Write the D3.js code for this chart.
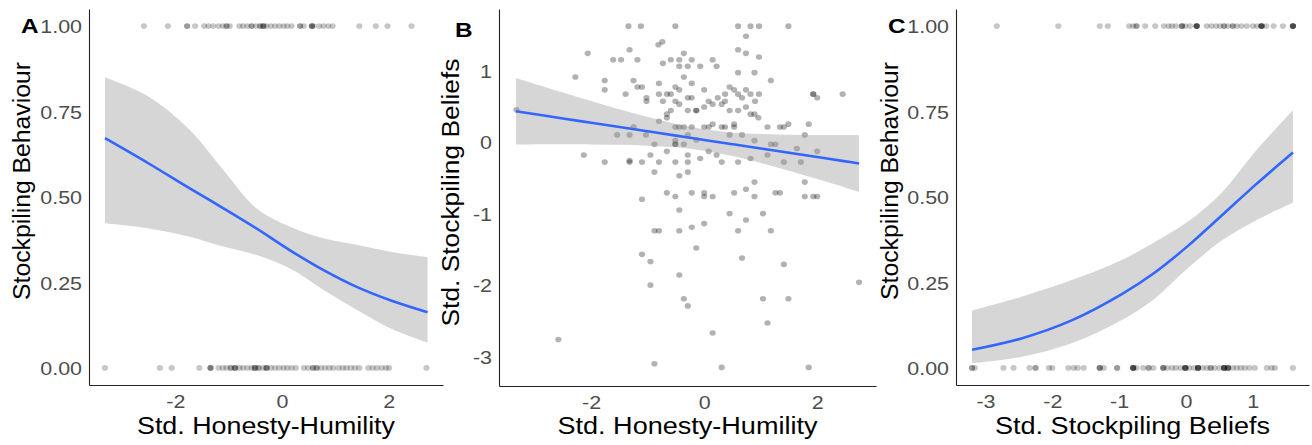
<!DOCTYPE html>
<html lang="en">
<head>
    <meta charset="utf-8">
    <title>Stockpiling</title>
    <script type="text/javascript" src="https://d3js.org/d3.v7.min.js"></script>
    <style>
        body { margin: 0; background: white; }
        svg text { font-family: "Liberation Sans", Arial, Helvetica, sans-serif; }
        .tick text { fill: #4d4d4d; font-size: 18.5px; }
        .domain { stroke: #222; stroke-width: 1.1px; }
    </style>
</head>
<body>
    <div id="chart"></div>
    <script type="text/javascript">
        // ---- data ----
        // A: Std. Honesty-Humility of people who did (1) / did not (0) stockpile
        const hhTop = [-2.59, -2.14, -1.78, -1.78, -1.63, -1.46, -1.38, -1.29, -1.19, -1.11, -1.04, -1.04, -0.98,
            -0.80, -0.73, -0.65, -0.57, -0.57, -0.49, -0.41, -0.41, -0.35, -0.35, -0.35, -0.29, -0.21, -0.13,
            -0.05, 0.03, 0.10, 0.18, 0.34, 0.34, 0.41, 0.56, 0.56, 0.56, 0.59, 0.70, 0.78, 0.87, 0.95,
            1.45, 1.76, 1.98, 2.43];
        const hhBottom = [-3.32, -2.29, -2.07, -1.55, -1.34, -1.34, -1.34, -1.19, -1.11, -1.04, -0.96, -0.96,
            -0.88, -0.88, -0.88, -0.80, -0.73, -0.65, -0.57, -0.51, -0.51, -0.51, -0.44, -0.44, -0.35,
            -0.29, -0.29, -0.29, -0.21, -0.13, -0.05, 0.03, 0.10, 0.18, 0.26, 0.41, 0.49, 0.58, 0.58,
            0.65, 0.65, 0.73, 0.81, 0.89, 0.96, 1.06, 1.14, 1.21, 1.29, 1.37, 1.45, 1.62, 1.70, 1.78,
            1.87, 1.95, 2.01, 2.71];

        // B: honesty-humility (x) vs stockpiling beliefs (y)
        const bX = [-1.34, -1.12, -0.51, 0.60, 0.82, 0.97, 1.49, 0.74, -0.81, -0.74, -2.06, -1.32, 0.60, 0.74, 0.97,
            -0.36, -1.61, -1.47, -1.18, -0.59, -0.44, -0.22, 0.15, -0.73, -0.44, -0.29, -0.07, 0.22,
            0.60, 0.89, -2.28, -0.36, -1.76, -1.25, 1.18, -0.80, -0.22,
            -1.18, -1.10, -0.51, -0.44, 0.45, 0.53, -1.76, 0.00, 0.74,
            -1.39, -0.80, -0.66, -0.59, 0.60, 0.82, 0.97, 1.93, 1.93, 2.00, 2.45, 0.37, 0.67,
            -1.02, -1.02, -0.29, -0.22, -0.51, -0.73, -0.44, 0.24, 0.08, 0.90, 0.37, 0.15, 0.31,
            -3.32, -0.66, -0.59, -0.29, -0.14, -0.14, 0.00, 0.45, 0.60, 0.82, 0.89, 0.96, 0.74,
            -0.66, -0.80,
            -0.36, -0.22, 0.00, 0.08, 0.31, 0.37, 0.53, 1.34, 1.41, 1.12, -1.25, -0.51, -0.44,
            0.15, 0.53, 1.49, 1.85,
            -1.54, -1.32, -1.03, -0.29, 0.45, 0.67, 1.78,
            -0.51, -0.51, -0.51, -0.36, -0.14, -0.88, 0.89, 1.18, 1.26,
            -0.66, 0.08, 1.64, 2.00,
            -2.13, -0.95, -0.29, 0.22, 1.12, 0.82,
            -1.76, -1.32, -1.32, -1.10, -0.80, -0.51, -0.29, -0.07, 0.31, 0.60, 1.41, 1.71,
            -0.88, -0.29, -0.44, 0.89, 1.78, 0.74,
            -0.66, -0.22, 0.00, 0.53, 1.26, 1.34,
            -0.51, 0.15, 0.00, 0.89, 1.78, 1.93, 2.00, -1.10,
            -0.44, 0.45, 1.04, 0.00, 0.74, -0.22,
            -0.88, -0.80, -0.44, 0.60, 1.18,
            -0.14, -1.10, -0.95, 0.67, 1.41, -0.44, -0.95, 2.74,
            -0.36, 1.04, 1.49, -0.29, 1.12, 0.15, -2.58, -0.88, 0.31, 1.85];
        const bY = [1.62, 1.62, 1.62, 1.62, 1.62, 1.62, 1.62, 1.48, 1.36, 1.40, 1.24, 1.29, 1.29, 1.24, 1.19,
            1.24, 1.15, 1.15, 1.15, 1.15, 1.15, 1.15, 1.15, 1.10, 1.06, 1.06, 1.06, 1.06,
            0.97, 0.97, 0.91, 0.91, 0.86, 0.86, 0.86, 0.82, 0.82,
            0.77, 0.77, 0.77, 0.73, 0.77, 0.73, 0.73, 0.73, 0.73,
            0.67, 0.67, 0.67, 0.67, 0.67, 0.67, 0.67, 0.67, 0.67, 0.62, 0.67, 0.67, 0.62,
            0.62, 0.57, 0.62, 0.62, 0.57, 0.57, 0.53, 0.62, 0.57, 0.57, 0.57, 0.53, 0.53,
            0.45, 0.39, 0.44, 0.44, 0.44, 0.44, 0.49, 0.44, 0.44, 0.39, 0.39, 0.34, 0.49,
            0.34, 0.29,
            0.21, 0.21, 0.21, 0.21, 0.21, 0.21, 0.21, 0.21, 0.21, 0.21, 0.21, 0.21, 0.21,
            0.25, 0.25, 0.25, 0.25,
            0.10, 0.10, 0.10, 0.10, 0.10, 0.10, 0.10,
            0.02, -0.03, -0.03, -0.03, 0.03, -0.03, 0.02, -0.03, -0.03,
            -0.13, -0.13, -0.09, -0.13,
            -0.18, -0.18, -0.18, -0.18, -0.18, -0.23,
            -0.28, -0.26, -0.28, -0.28, -0.28, -0.28, -0.28, -0.23, -0.28, -0.28, -0.28, -0.28,
            -0.42, -0.42, -0.47, -0.56, -0.56, -0.66,
            -0.71, -0.71, -0.71, -0.71, -0.71, -0.71,
            -0.76, -0.76, -0.76, -0.76, -0.76, -0.76, -0.76, -0.80,
            -0.95, -1.00, -1.00, -1.14, -1.09, -1.19,
            -1.24, -1.24, -1.24, -1.24, -1.24,
            -1.48, -1.57, -1.67, -1.62, -1.71, -1.86, -2.00, -1.96,
            -2.19, -2.19, -2.19, -2.29, -2.53, -2.67, -2.76, -3.10, -3.15, -3.15];

        // C: stockpiling beliefs of people who did (1) / did not (0) stockpile
        const sbTop = [-2.83, -1.91, -1.29, -1.17, -0.85, -0.79, -0.74, -0.74, -0.61, -0.46, -0.33, -0.26, -0.21,
            -0.15, -0.06, -0.06, -0.06, -0.01, 0.06, 0.16, 0.16, 0.16, 0.16, 0.16, 0.31, 0.38, 0.45, 0.51,
            0.57, 0.57, 0.63, 0.70, 0.70, 0.76, 0.83, 0.91, 1.00, 1.06, 1.13, 1.13, 1.13, 1.13, 1.13,
            1.20, 1.31, 1.45, 1.60, 1.60, 1.60, 1.60, 1.60];
        const sbBottom = [-3.20, -3.20, -3.16, -2.73, -2.58, -2.34, -2.25, -2.25, -2.05, -2.00, -1.76, -1.68,
            -1.62, -1.53, -1.29, -1.29, -1.29, -1.23, -1.03, -1.03, -0.79, -0.79, -0.79, -0.79, -0.79,
            -0.74, -0.64, -0.56, -0.56, -0.49, -0.34, -0.34, -0.34, -0.28, -0.21, -0.15, -0.08,
            -0.01, -0.01, -0.01, -0.01, -0.01, 0.05, 0.12, 0.18, 0.18, 0.18, 0.18, 0.18, 0.25, 0.31,
            0.37, 0.37, 0.43, 0.50, 0.57, 0.57, 0.57, 0.57, 0.57, 0.63, 0.63, 0.63, 0.63, 0.70, 0.76,
            0.82, 0.88, 0.95, 1.03, 1.21, 1.28, 1.33, 1.60];

        // fitted curves with 95% bands, read at a few x positions
        const fitAx  = [-3.32, -2.50, -1.73, -1.10, -0.48, 0.15, 0.78, 1.40, 2.03, 2.73];
        const fitAy  = [0.672, 0.598, 0.525, 0.467, 0.408, 0.344, 0.286, 0.237, 0.198, 0.163];
        const fitAlo = [0.423, 0.408, 0.384, 0.355, 0.330, 0.291, 0.228, 0.170, 0.116, 0.074];
        const fitAhi = [0.850, 0.793, 0.696, 0.579, 0.467, 0.413, 0.379, 0.360, 0.340, 0.324];

        const fitBx  = [-3.33, -2.5, -2, -1.5, -1, -0.5, 0, 0.5, 1, 1.5, 2, 2.5, 2.74];
        const fitBy  = [0.43, 0.33, 0.27, 0.21, 0.15, 0.09, 0.03, -0.03, -0.09, -0.15, -0.21, -0.27, -0.30];
        const fitBlo = [-0.035, -0.032, -0.033, -0.038, -0.05, -0.073, -0.12, -0.195, -0.292, -0.401, -0.518, -0.637, -0.695];
        const fitBhi = [0.895, 0.692, 0.573, 0.458, 0.35, 0.253, 0.18, 0.135, 0.112, 0.101, 0.098, 0.097, 0.095];

        const fitCx  = [-3.20, -2.45, -1.71, -0.96, -0.46, 0.03, 0.53, 1.03, 1.60];
        const fitCy  = [0.053, 0.087, 0.139, 0.216, 0.280, 0.357, 0.445, 0.534, 0.630];
        const fitClo = [0.014, 0.033, 0.072, 0.140, 0.204, 0.292, 0.372, 0.430, 0.483];
        const fitChi = [0.168, 0.209, 0.257, 0.316, 0.369, 0.428, 0.512, 0.632, 0.754];

        const probTicks = [0, 0.25, 0.5, 0.75, 1];
        const hhTicks = [-2, 0, 2];
        const sbTicksY = [-3, -2, -1, 0, 1];
        const sbTicksX = [-3, -2, -1, 0, 1];

        // ---- drawing ----
        const width = 1312;
        const height = 445;
        const SX = 1.16; // the figure is a bit wider than tall, text too

        const svg = d3.select("#chart")
            .append("svg")
            .attr("width", width)
            .attr("height", height);

        function stretch(sel, k) {
            sel.each(function() {
                const w = this.getComputedTextLength();
                d3.select(this).attr("textLength", w * k).attr("lengthAdjust", "spacingAndGlyphs");
            });
        }

        function drawPanel(p) {
            const x = d3.scaleLinear().domain(p.xDomain).range([p.left, p.right]);
            const y = d3.scaleLinear().domain(p.yDomain).range([p.bottom, p.top]);
            const g = svg.append("g");

            // points
            g.append("g")
                .selectAll("ellipse")
                .data(p.points)
                .join("ellipse")
                    .attr("cx", d => x(d[0]))
                    .attr("cy", d => y(d[1]))
                    .attr("rx", 3.1)
                    .attr("ry", 2.8)
                    .attr("fill", "#000")
                    .attr("fill-opacity", p.alpha);

            // confidence band
            const band = p.fx.map((v, i) => ({x: v, lo: p.flo[i], hi: p.fhi[i]}));
            g.append("path")
                .datum(band)
                .attr("fill", "#999999")
                .attr("fill-opacity", 0.4)
                .attr("d", d3.area()
                    .x(d => x(d.x))
                    .y0(d => y(d.lo))
                    .y1(d => y(d.hi))
                    .curve(d3.curveCatmullRom));

            // fitted line
            const fit = p.fx.map((v, i) => ({x: v, y: p.fy[i]}));
            g.append("path")
                .datum(fit)
                .attr("fill", "none")
                .attr("stroke", "#3366FF")
                .attr("stroke-width", 2.6)
                .attr("d", d3.line()
                    .x(d => x(d.x))
                    .y(d => y(d.y))
                    .curve(d3.curveCatmullRom));

            // axes
            const yAxis = d3.axisLeft(y).tickValues(p.yTicks).tickFormat(p.yFormat)
                .tickSize(0).tickPadding(7);
            const xAxis = d3.axisBottom(x).tickValues(p.xTicks).tickFormat(d => String(d))
                .tickSize(0).tickPadding(10);

            const ya = g.append("g")
                .attr("transform", `translate(${p.left}, 0)`)
                .call(yAxis);
            const xa = g.append("g")
                .attr("transform", `translate(0, ${p.bottom})`)
                .call(xAxis);
            ya.selectAll(".tick text").attr("dy", "0.36em");
            stretch(ya.selectAll(".tick text"), SX);
            stretch(xa.selectAll(".tick text"), SX);

            // titles
            g.append("text")
                .attr("x", (p.left + p.right) / 2)
                .attr("y", 434)
                .attr("text-anchor", "middle")
                .attr("font-size", "23px")
                .attr("fill", "#000")
                .attr("textLength", p.xTitleLen)
                .attr("lengthAdjust", "spacingAndGlyphs")
                .text(p.xTitle);

            g.append("text")
                .attr("transform", `translate(${p.yTitleX}, ${p.yTitleY}) rotate(-90)`)
                .attr("text-anchor", "middle")
                .attr("font-size", "23px")
                .attr("fill", "#000")
                .attr("textLength", p.yTitleLen)
                .attr("lengthAdjust", "spacingAndGlyphs")
                .text(p.yTitle);

            const tag = g.append("text")
                .attr("x", p.tagX)
                .attr("y", p.tagY)
                .attr("font-size", "21px")
                .attr("font-weight", "bold")
                .attr("fill", "#000")
                .text(p.tag);
            stretch(tag, SX);
        }

        const fmt2 = d3.format(".2f");

        drawPanel({
            tag: "A", tagX: 21, tagY: 33,
            left: 89, right: 443, top: 9, bottom: 385,
            xDomain: [-3.62, 3.02], yDomain: [-0.05, 1.05],
            points: hhTop.map(v => [v, 1]).concat(hhBottom.map(v => [v, 0])),
            alpha: 0.22,
            fx: fitAx, fy: fitAy, flo: fitAlo, fhi: fitAhi,
            xTicks: hhTicks, yTicks: probTicks, yFormat: fmt2,
            xTitle: "Std. Honesty-Humility", xTitleLen: 258,
            yTitle: "Stockpiling Behaviour", yTitleLen: 238, yTitleX: 29.5, yTitleY: 181
        });

        drawPanel({
            tag: "B", tagX: 455, tagY: 36.5,
            left: 499, right: 876, top: 9, bottom: 386,
            xDomain: [-3.63, 3.04], yDomain: [-3.41, 1.86],
            points: bX.map((v, i) => [v, bY[i]]),
            alpha: 0.3,
            fx: fitBx, fy: fitBy, flo: fitBlo, fhi: fitBhi,
            xTicks: hhTicks, yTicks: sbTicksY, yFormat: d => String(d),
            xTitle: "Std. Honesty-Humility", xTitleLen: 260,
            yTitle: "Std. Stockpiling Beliefs", yTitleLen: 268, yTitleX: 459, yTitleY: 192.5
        });

        drawPanel({
            tag: "C", tagX: 888, tagY: 33,
            left: 956, right: 1309, top: 9, bottom: 385,
            xDomain: [-3.44, 1.84], yDomain: [-0.05, 1.05],
            points: sbTop.map(v => [v, 1]).concat(sbBottom.map(v => [v, 0])),
            alpha: 0.22,
            fx: fitCx, fy: fitCy, flo: fitClo, fhi: fitChi,
            xTicks: sbTicksX, yTicks: probTicks, yFormat: fmt2,
            xTitle: "Std. Stockpiling Beliefs", xTitleLen: 275,
            yTitle: "Stockpiling Behaviour", yTitleLen: 238, yTitleX: 898, yTitleY: 181
        });
    </script>
</body>
</html>
